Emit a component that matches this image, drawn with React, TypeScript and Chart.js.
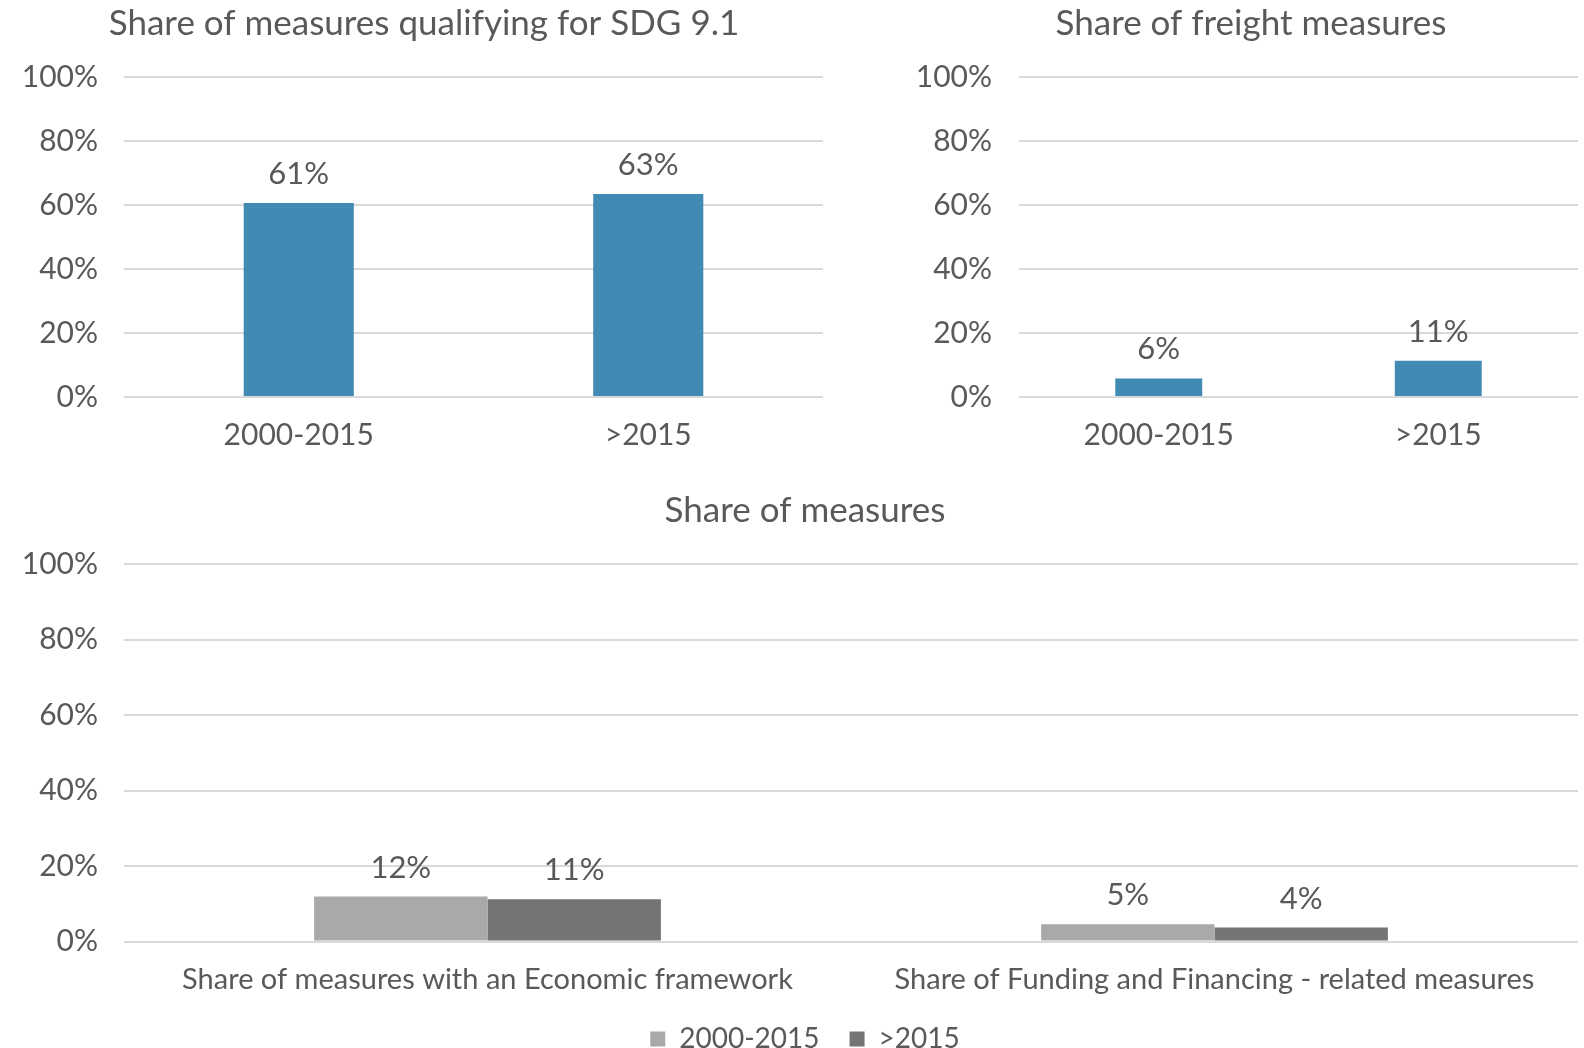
import React, { useEffect, useRef } from 'react';
import { Chart, registerables } from 'chart.js';

Chart.register(...registerables);

// ---- data ----
const periods = ['2000-2015', '>2015'];
const sdgShare = [60.6, 63.4];
const freightShare = [5.8, 11.3];
const measureCategories = [
  'Share of measures with an Economic framework',
  'Share of Funding and Financing - related measures',
];
const share2000to2015 = [11.9, 4.6];
const shareAfter2015 = [11.2, 3.7];
const seriesNames = ['2000-2015', '>2015'];
const titles = ['Share of measures qualifying for SDG 9.1', 'Share of freight measures', 'Share of measures'];

// ---- style ----
const FONT = 'Lato';
const TEXT = '#595959';
const GRID = '#d9d9d9';
const BLUE = '#418ab3';
const LIGHT = '#a9a9a9';
const DARK = '#747474';

const valueLabels = {
  id: 'valueLabels',
  afterDatasetsDraw(chart: any) {
    const ctx = chart.ctx;
    ctx.save();
    ctx.font = `31px ${FONT}`;
    ctx.fillStyle = TEXT;
    ctx.textAlign = 'center';
    ctx.textBaseline = 'middle';
    chart.data.datasets.forEach((ds: any, i: number) => {
      const meta = chart.getDatasetMeta(i);
      meta.data.forEach((el: any, j: number) => {
        ctx.fillText(Math.round(ds.data[j]) + '%', el.x, el.y - 29);
      });
    });
    ctx.restore();
  },
};

function buildOptions(p: any) {
  return {
    responsive: false,
    animation: false,
    layout: { padding: p.padding },
    plugins: {
      title: {
        display: true,
        text: p.title,
        color: TEXT,
        font: { family: FONT, size: 35, weight: 'normal', lineHeight: 1.2 },
        padding: { top: p.titleTop, bottom: p.titleBottom },
      },
      legend: p.legend
        ? {
            display: true,
            position: 'bottom',
            labels: {
              color: TEXT,
              font: { family: FONT, size: 28 },
              boxWidth: 15,
              boxHeight: 15,
              padding: 30,
            },
          }
        : { display: false },
      tooltip: { enabled: false },
    },
    scales: {
      x: {
        grid: { display: false },
        border: { display: false },
        ticks: {
          color: TEXT,
          font: { family: FONT, size: p.xFont, lineHeight: 1.2 },
          padding: p.xPad,
          maxRotation: 0,
        },
        afterFit: (s: any) => {
          s.height = p.xHeight;
        },
      },
      y: {
        min: 0,
        max: 100,
        border: { display: false },
        grid: { color: GRID, lineWidth: 2, drawTicks: false },
        ticks: {
          stepSize: 20,
          color: TEXT,
          font: { family: FONT, size: 30 },
          padding: p.yPad,
          callback: (v: any) => v + '%',
        },
        afterFit: (s: any) => {
          s.width = p.yWidth;
          // let tick labels extend past the axis box without being clipped
          s._computeLabelArea = () => undefined;
        },
      },
    },
  };
}

function ChartBox({ config, left, top, width, height }: any) {
  const ref = useRef<HTMLCanvasElement>(null);
  useEffect(() => {
    const chart = new Chart(ref.current as HTMLCanvasElement, config);
    return () => chart.destroy();
  }, []);
  return (
    <canvas
      ref={ref}
      width={width}
      height={height}
      style={{ position: 'absolute', left, top, width, height }}
    />
  );
}

export default function App() {
  const sdgConfig: any = {
    type: 'bar',
    data: {
      labels: periods,
      datasets: [{ data: sdgShare, backgroundColor: BLUE, categoryPercentage: 1, barPercentage: 0.315 }],
    },
    options: buildOptions({
      title: titles[0],
      titleTop: 3,
      titleBottom: 32,
      padding: { left: 25, right: 25, top: 0, bottom: 0 },
      yWidth: 99,
      yPad: 26,
      xHeight: 73,
      xPad: 12.8,
      xFont: 30,
      legend: false,
    }),
    plugins: [valueLabels],
  };
  const freightConfig: any = {
    type: 'bar',
    data: {
      labels: periods,
      datasets: [{ data: freightShare, backgroundColor: BLUE, categoryPercentage: 1, barPercentage: 0.311 }],
    },
    options: buildOptions({
      title: titles[1],
      titleTop: 3,
      titleBottom: 32,
      padding: { left: 6, right: 6, top: 0, bottom: 0 },
      yWidth: 95,
      yPad: 27,
      xHeight: 73,
      xPad: 12.8,
      xFont: 30,
      legend: false,
    }),
    plugins: [valueLabels],
  };
  const measuresConfig: any = {
    type: 'bar',
    data: {
      labels: measureCategories,
      datasets: [
        { label: seriesNames[0], data: share2000to2015, backgroundColor: LIGHT, categoryPercentage: 0.477, barPercentage: 1 },
        { label: seriesNames[1], data: shareAfter2015, backgroundColor: DARK, categoryPercentage: 0.477, barPercentage: 1 },
      ],
    },
    options: buildOptions({
      title: titles[2],
      titleTop: 20,
      titleBottom: 32,
      padding: { left: 32, right: 6, top: 0, bottom: 0 },
      yWidth: 92,
      yPad: 26,
      xHeight: 53.5,
      xPad: 13,
      xFont: 29,
      legend: true,
    }),
    plugins: [valueLabels],
  };

  return (
    <div
      style={{
        position: 'fixed',
        left: 0,
        top: 0,
        width: 1584,
        height: 1048,
        overflow: 'hidden',
        background: '#ffffff',
      }}
    >
      <ChartBox config={sdgConfig} left={0} top={0} width={848} height={470} />
      <ChartBox config={freightConfig} left={918} top={0} width={666} height={470} />
      <ChartBox config={measuresConfig} left={0} top={470} width={1584} height={593} />
    </div>
  );
}
